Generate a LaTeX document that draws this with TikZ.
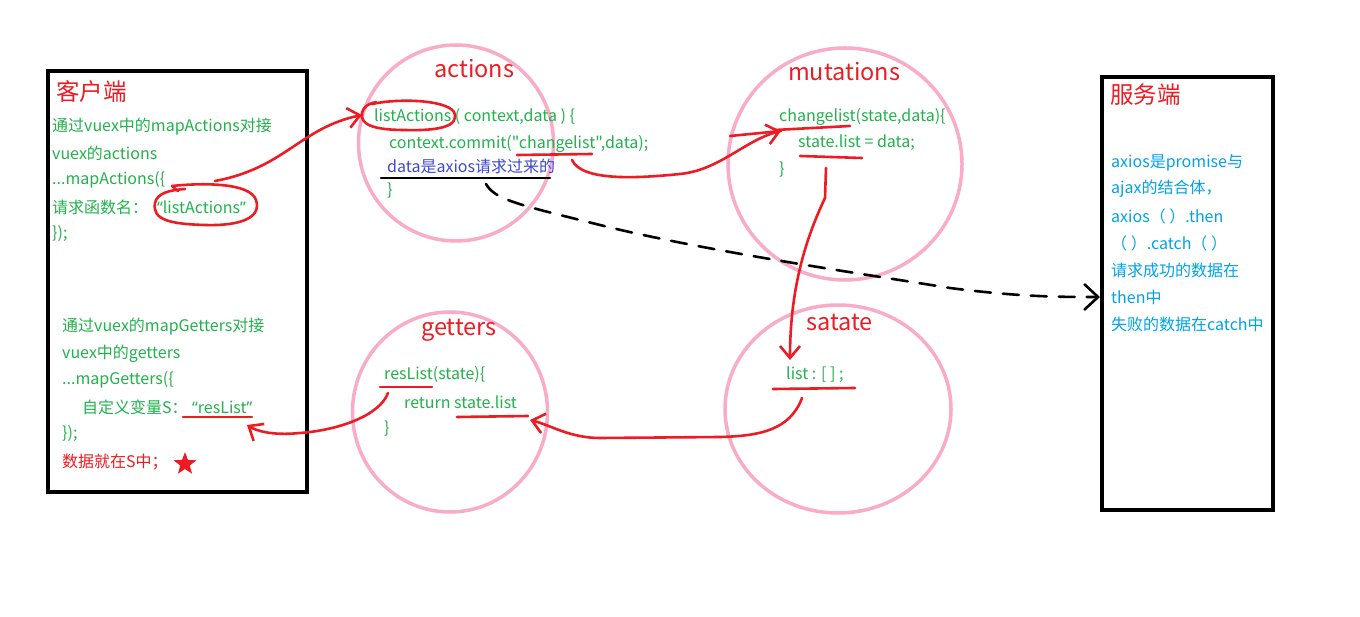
\documentclass[tikz,border=0pt]{standalone}
\usepackage{fontspec}
\setmainfont{Noto Sans CJK SC}[Ligatures=TeXOff]
\newfontfamily\qf{Noto Sans}
\usetikzlibrary{arrows.meta,shapes.geometric}
\definecolor{pred}{RGB}{237,28,36}
\definecolor{pgreen}{RGB}{34,177,76}
\definecolor{pblue}{RGB}{0,162,232}
\definecolor{pindigo}{RGB}{63,72,204}
\definecolor{ppink}{RGB}{248,172,200}
\newcommand{\myLq}{{\qf “}}
\newcommand{\myRq}{{\qf ”}}
\tikzset{
  txt/.style={anchor=west,inner sep=0pt,font=\fontsize{16}{19}\selectfont},
  code/.style={txt,text=pgreen},
  title/.style={anchor=west,inner sep=0pt,text=pred,font=\fontsize{23.5}{27}\selectfont},
  side/.style={draw=black,line width=4pt},
  ring/.style={draw=ppink,line width=3.5pt},
  pen/.style={draw=pred,line width=2.6pt,line cap=round,line join=round},
  penarrow/.style={pen,-{Straight Barb[length=12pt,width=20pt,line width=2.6pt]}},
  ink/.style={draw=black,line width=2.6pt,line cap=round},
}
\begin{document}
\begin{tikzpicture}[x=1pt,y=-1pt]
\useasboundingbox[fill=white] (0,0) rectangle (1360,617);

% client box
\node[side,minimum width=259pt,minimum height=421pt,anchor=north west,inner sep=0pt] (client) at (46,69) {};
\node[title] (clientT) at (56,92) {客户端};
\node[code] (c1) at (52,127) {通过vuex中的mapActions对接};
\node[code] (c2) at (52,153) {vuex的actions};
\node[code] (c3) at (52,180) {...mapActions(\{};
\node[code] (c4) at (52,207) {请求函数名：};
\node[code] (c4b) at (157,207) {\myLq listActions\myRq};
\node[code] (c5) at (52,234) {\});};
\node[code] (g1) at (62,327) {通过vuex的mapGetters对接};
\node[code] (g2) at (62,354) {vuex中的getters};
\node[code] (g3) at (62,380) {...mapGetters(\{};
\node[code] (g4) at (82,407) {自定义变量S：};
\node[code] (g4b) at (192,407) {\myLq resList\myRq};
\node[code] (g5) at (62,434) {\});};
\node[txt,text=pred] (g6) at (62,462) {数据就在S中；};
\node[star,star points=5,star point ratio=2.4,fill=pred,inner sep=0pt,minimum size=24pt] (star) at (185,464) {};

% server box
\node[side,minimum width=171pt,minimum height=433pt,anchor=north west,inner sep=0pt] (server) at (1100,75) {};
\node[title] (serverT) at (1110,95) {服务端};
\node[txt,text=pblue] (s1) at (1111,163) {axios是promise与};
\node[txt,text=pblue] (s2) at (1111,189) {ajax的结合体，};
\node[txt,text=pblue] (s3) at (1111,216) {axios（ ）.then};
\node[txt,text=pblue] (s4) at (1111,243) {（ ）.catch（ ）};
\node[txt,text=pblue] (s5) at (1111,270) {请求成功的数据在};
\node[txt,text=pblue] (s6) at (1111,297) {then中};
\node[txt,text=pblue] (s7) at (1111,324) {失败的数据在catch中};

% circles
\node[ring,ellipse,minimum width=195pt,minimum height=196pt,inner sep=0pt] (actC) at (456,143) {};
\node[ring,ellipse,minimum width=234pt,minimum height=232pt,inner sep=0pt] (mutC) at (845,164) {};
\node[ring,ellipse,minimum width=195pt,minimum height=200pt,inner sep=0pt] (getC) at (450,412) {};
\node[ring,ellipse,minimum width=226pt,minimum height=208pt,inner sep=0pt] (staC) at (838,409) {};

% actions
\node[title] (actT) at (434,69) {actions};
\node[code] (a1) at (374,117) {listActions ( context,data ) \{};
\node[code] (a2) at (389,144) {context.commit("changelist",data);};
\node[txt,text=pindigo] (a3) at (387,166) {data是axios请求过来的};
\node[code] (a4) at (387,191) {\}};

% mutations
\node[title] (mutT) at (788,72) {mutations};
\node[code] (m1) at (779,117) {changelist(state,data)\{};
\node[code] (m2) at (798,143) {state.list = data;};
\node[code] (m3) at (779,170) {\}};

% getters
\node[title] (getT) at (421,330) {getters};
\node[code] (r1) at (384,375) {resList(state)\{};
\node[code] (r2) at (404,402) {return state.list};
\node[code] (r3) at (384,429) {\}};

% state
\node[title] (staT) at (806,322) {satate};
\node[code] (l1) at (786,375) {list : [ ] ;};

% marks: loops and underlines
\draw[pen] (178,191) -- (172,186) .. controls (200,183) and (250,182) .. (256,200)
  .. controls (262,218) and (240,226) .. (205,225) .. controls (170,224) and (152,220) .. (155,203)
  .. controls (157,193) and (170,190) .. (185,189);
\draw[pen] (372,104) .. controls (400,98) and (446,100) .. (454,112)
  .. controls (460,126) and (440,131) .. (405,130) .. controls (372,130) and (360,124) .. (362,113)
  .. controls (364,106) and (368,104) .. (376,102);
\draw[ink] (381,178) -- (550,178);
\draw[pen] (517,155) -- (592,154);
\draw[pen] (775,130) -- (850,126);
\draw[pen] (800,156) -- (862,158);
\draw[pen] (773,389) -- (855,388);
\draw[pen] (380,387) -- (432,387);
\draw[pen] (457,417) -- (528,416);
\draw[pen] (183,417) -- (252,417);

% connectors
\coordinate (p1s) at (215,181);
\coordinate (p1e) at (362,115);
\draw[penarrow] (p1s) .. controls (285,168) and (300,128) .. (p1e);
\coordinate (p2s) at (572,160);
\coordinate (p2e) at (781,131);
\draw[penarrow] (p2s) .. controls (582,182) and (640,178) .. (680,174)
  .. controls (720,170) and (745,140) .. (p2e);
\draw[pen] (730,136) -- (p2e);
\coordinate (p3s) at (826,168);
\coordinate (p3e) at (790,360);
\draw[penarrow] (p3s) -- (825,198) .. controls (805,240) and (790,290) .. (p3e);
\coordinate (p4s) at (802,398);
\coordinate (p4e) at (530,420);
\draw[penarrow] (p4s) .. controls (790,430) and (760,436) .. (720,437)
  -- (600,438) .. controls (570,438) and (550,425) .. (p4e);
\coordinate (p5s) at (388,393);
\coordinate (p5e) at (247,425);
\draw[penarrow] (p5s) .. controls (380,415) and (340,430) .. (300,433)
  .. controls (270,436) and (255,430) .. (p5e);
\coordinate (p6s) at (486,184);
\draw[ink,dashed,dash pattern=on 16pt off 12pt,-{Straight Barb[length=14pt,width=26pt,line width=2.6pt]}]
  (p6s) .. controls (495,200) and (520,205) .. (600,225)
  .. controls (700,250) and (850,272) .. (950,288)
  .. controls (1020,297) and (1060,297) .. (server.west |- s6);
\end{tikzpicture}
\end{document}
